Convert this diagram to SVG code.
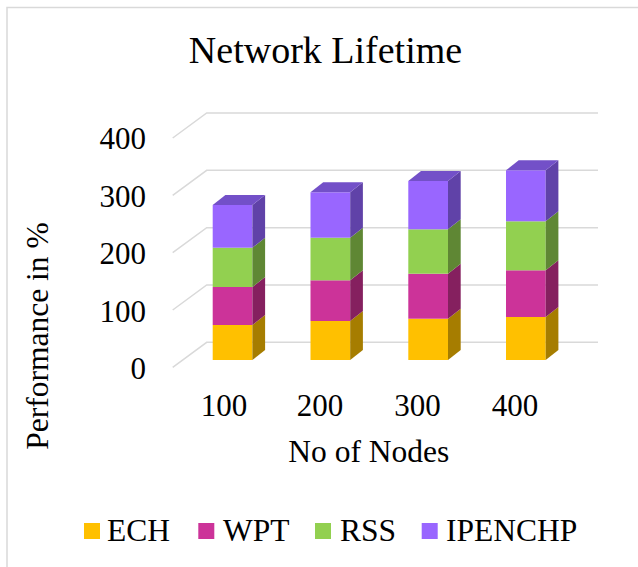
<svg xmlns="http://www.w3.org/2000/svg" width="638" height="567" viewBox="0 0 638 567">
  <style>
    text { font-family: "Liberation Serif", "Times New Roman", serif; fill: #000; }
    .title { font-size: 38px; text-anchor: middle; }
    .ax { font-size: 31px; }
    .big { font-size: 31.5px; }
    .ytick { text-anchor: end; }
    .xtick { text-anchor: middle; }
    .grid { fill: none; stroke: #D9D9D9; stroke-width: 1.5; }
    .ech { fill: #FFC000; } .ech-s { fill: #A67D00; }
    .wpt { fill: #CC3399; } .wpt-s { fill: #85205F; }
    .rss { fill: #92D050; } .rss-s { fill: #5F8734; }
    .ipe { fill: #9966FF; } .ipe-s { fill: #6042A8; } .ipe-t { fill: #7350C8; }
  </style>

  <!-- chart area frame -->
  <rect x="7" y="7.5" width="660" height="600" fill="#fff" stroke="#D9D9D9" stroke-width="1.5"/>

  <text class="title" x="325.5" y="62.5">Network Lifetime</text>

  <!-- gridlines: floor diagonal + back wall line -->
  <g id="gridlines">
    <polyline class="grid" points="172.7,138 206.7,113 598,113"/>
    <polyline class="grid" points="172.7,195.3 206.7,170.3 598,170.3"/>
    <polyline class="grid" points="172.7,252.7 206.7,227.7 598,227.7"/>
    <polyline class="grid" points="172.7,310 206.7,285 598,285"/>
    <polyline class="grid" points="172.7,367.3 206.7,342.3 598,342.3"/>
  </g>

  <!-- value axis -->
  <g id="y-axis" class="ax">
    <text class="ytick" x="146" y="149">400</text>
    <text class="ytick" x="146" y="206.5">300</text>
    <text class="ytick" x="146" y="264">200</text>
    <text class="ytick" x="146" y="321.5">100</text>
    <text class="ytick" x="146" y="378.5">0</text>
    <text class="big" transform="translate(48,336) rotate(-90)" text-anchor="middle">Performance in %</text>
  </g>

  <!-- category axis -->
  <g id="x-axis" class="ax">
    <text class="xtick" x="224" y="416">100</text>
    <text class="xtick" x="320" y="416">200</text>
    <text class="xtick" x="417.5" y="416">300</text>
    <text class="xtick" x="515" y="416">400</text>
    <text class="xtick big" x="368.8" y="461.5">No of Nodes</text>
  </g>

  <!-- stacked 3D columns -->
  <g id="bar-100">
    <rect class="ech" x="212.7" y="325" width="39.7" height="35"/>
    <polygon class="ech-s" points="252.4,360 265.1,350 265.1,315 252.4,325"/>
    <rect class="wpt" x="212.7" y="287" width="39.7" height="38"/>
    <polygon class="wpt-s" points="252.4,325 265.1,315 265.1,277 252.4,287"/>
    <rect class="rss" x="212.7" y="247.7" width="39.7" height="39.3"/>
    <polygon class="rss-s" points="252.4,287 265.1,277 265.1,237.7 252.4,247.7"/>
    <rect class="ipe" x="212.7" y="205" width="39.7" height="42.7"/>
    <polygon class="ipe-s" points="252.4,247.7 265.1,237.7 265.1,195 252.4,205"/>
    <polygon class="ipe-t" points="212.7,205 225.4,195 265.1,195 252.4,205"/>
  </g>
  <g id="bar-200">
    <rect class="ech" x="310.5" y="321" width="39.7" height="39"/>
    <polygon class="ech-s" points="350.2,360 362.9,350 362.9,311 350.2,321"/>
    <rect class="wpt" x="310.5" y="280.3" width="39.7" height="40.7"/>
    <polygon class="wpt-s" points="350.2,321 362.9,311 362.9,270.3 350.2,280.3"/>
    <rect class="rss" x="310.5" y="237.7" width="39.7" height="42.6"/>
    <polygon class="rss-s" points="350.2,280.3 362.9,270.3 362.9,227.7 350.2,237.7"/>
    <rect class="ipe" x="310.5" y="192.3" width="39.7" height="45.4"/>
    <polygon class="ipe-s" points="350.2,237.7 362.9,227.7 362.9,182.3 350.2,192.3"/>
    <polygon class="ipe-t" points="310.5,192.3 323.2,182.3 362.9,182.3 350.2,192.3"/>
  </g>
  <g id="bar-300">
    <rect class="ech" x="408.3" y="318.7" width="39.7" height="41.3"/>
    <polygon class="ech-s" points="448,360 460.7,350 460.7,308.7 448,318.7"/>
    <rect class="wpt" x="408.3" y="273.7" width="39.7" height="45"/>
    <polygon class="wpt-s" points="448,318.7 460.7,308.7 460.7,263.7 448,273.7"/>
    <rect class="rss" x="408.3" y="229.3" width="39.7" height="44.4"/>
    <polygon class="rss-s" points="448,273.7 460.7,263.7 460.7,219.3 448,229.3"/>
    <rect class="ipe" x="408.3" y="181" width="39.7" height="48.3"/>
    <polygon class="ipe-s" points="448,229.3 460.7,219.3 460.7,171 448,181"/>
    <polygon class="ipe-t" points="408.3,181 421,171 460.7,171 448,181"/>
  </g>
  <g id="bar-400">
    <rect class="ech" x="506" y="317" width="39.7" height="43"/>
    <polygon class="ech-s" points="545.7,360 558.4,350 558.4,307 545.7,317"/>
    <rect class="wpt" x="506" y="270.3" width="39.7" height="46.7"/>
    <polygon class="wpt-s" points="545.7,317 558.4,307 558.4,260.3 545.7,270.3"/>
    <rect class="rss" x="506" y="221.3" width="39.7" height="49"/>
    <polygon class="rss-s" points="545.7,270.3 558.4,260.3 558.4,211.3 545.7,221.3"/>
    <rect class="ipe" x="506" y="170.3" width="39.7" height="51"/>
    <polygon class="ipe-s" points="545.7,221.3 558.4,211.3 558.4,160.3 545.7,170.3"/>
    <polygon class="ipe-t" points="506,170.3 518.7,160.3 558.4,160.3 545.7,170.3"/>
  </g>

  <!-- legend -->
  <g id="legend" class="big">
    <rect class="ech" x="84" y="523" width="16" height="16"/>
    <text x="107" y="540.7">ECH</text>
    <rect class="wpt" x="198.3" y="523" width="16" height="16"/>
    <text x="223" y="540.7">WPT</text>
    <rect class="rss" x="315" y="523" width="16" height="16"/>
    <text x="340" y="540.7">RSS</text>
    <rect class="ipe" x="421.7" y="523" width="16" height="16"/>
    <text x="446" y="540.7">IPENCHP</text>
  </g>
</svg>
